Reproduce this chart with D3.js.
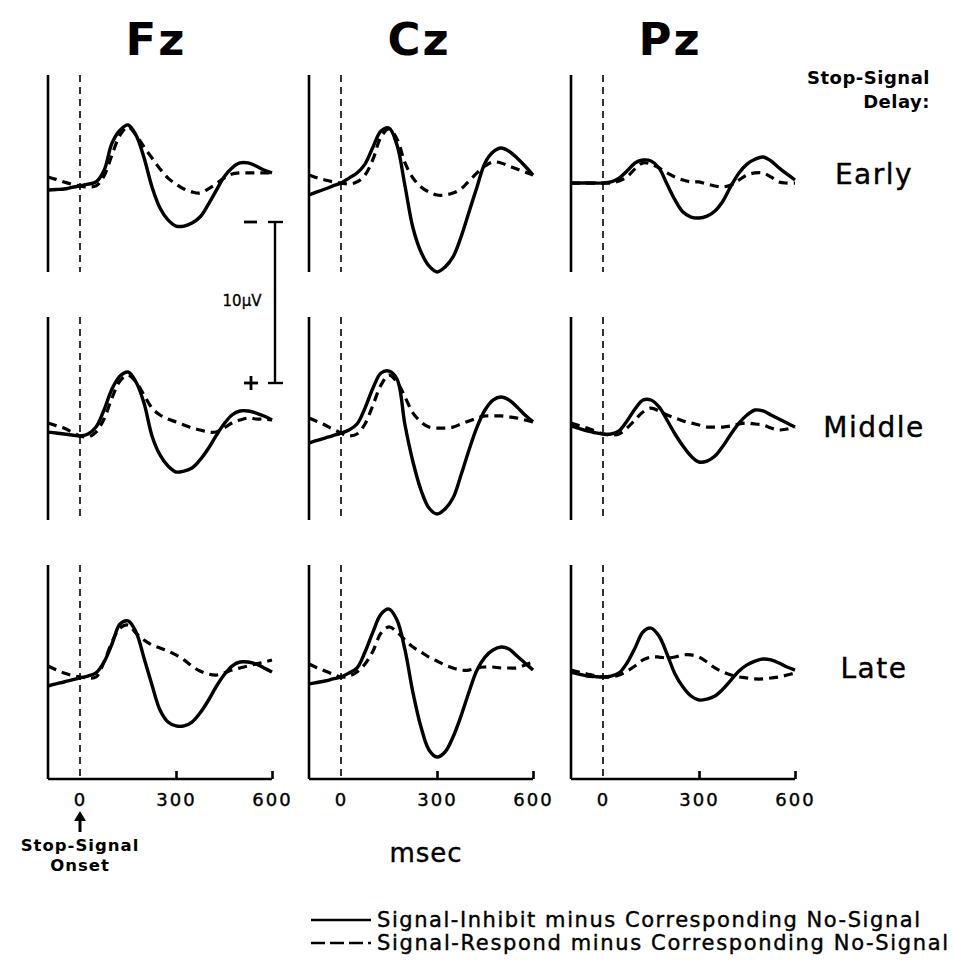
<!DOCTYPE html>
<html>
<head>
<meta charset="utf-8">
<script src="https://cdn.jsdelivr.net/npm/d3@7"></script>
<style>
  html, body { margin: 0; padding: 0; background: #fff; }
  svg { display: block; }
</style>
</head>
<body>
<script>
// ---------------- DATA ----------------
const electrodes = ["Fz", "Cz", "Pz"];
const delays = ["Early", "Middle", "Late"];
const times = [-100, -75, -50, -25, 0, 25, 50, 75, 100, 125, 150, 175, 200, 225, 250, 275, 300,
               325, 350, 375, 400, 425, 450, 475, 500, 525, 550, 575, 600];
const xTicks = [0, 300, 600];
const legendLabels = ["Signal-Inhibit minus Corresponding No-Signal",
                      "Signal-Respond minus Corresponding No-Signal"];
// amplitudes in microvolts (negative plotted upward)
// Early
const fzEarlyInhibit = [0.31, 0.28, 0.25, 0.15, 0.06, -0.05, -0.19, -0.9, -2.6, -3.4, -3.73, -3.1, -1.7, 0.12, 1.43, 2.17, 2.55, 2.55, 2.36, 1.99, 1.24, 0.37, -0.5, -1.06, -1.37, -1.37, -1.18, -0.93, -0.75];
const fzEarlyRespond = [-0.5, -0.35, -0.19, -0.05, 0.06, 0.12, 0.06, -0.56, -1.86, -3.1, -3.6, -3.1, -2.36, -1.68, -1.0, -0.43, -0.06, 0.25, 0.43, 0.5, 0.25, -0.06, -0.43, -0.68, -0.75, -0.75, -0.75, -0.75, -0.75];
const czEarlyInhibit = [0.62, 0.43, 0.25, 0.06, -0.12, -0.43, -0.75, -1.3, -2.36, -3.35, -3.54, -2.48, 0.06, 2.67, 4.16, 5.03, 5.4, 5.1, 4.47, 3.23, 1.68, 0.12, -1.37, -2.05, -2.3, -2.1, -1.68, -1.18, -0.62];
const czEarlyRespond = [-0.62, -0.45, -0.31, -0.2, -0.12, -0.06, -0.19, -0.62, -1.6, -2.98, -3.48, -2.86, -1.37, -0.43, 0.12, 0.43, 0.62, 0.62, 0.5, 0.25, -0.25, -0.75, -1.18, -1.43, -1.37, -1.18, -0.99, -0.81, -0.62];
const pzEarlyInhibit = [-0.12, -0.12, -0.12, -0.12, -0.12, -0.19, -0.43, -0.87, -1.37, -1.55, -1.49, -1.06, -0.06, 0.93, 1.68, 1.99, 2.05, 1.93, 1.61, 0.99, 0.06, -0.75, -1.3, -1.6, -1.74, -1.49, -1.06, -0.68, -0.31];
const pzEarlyRespond = [-0.12, -0.12, -0.12, -0.12, -0.12, -0.12, -0.25, -0.5, -1.0, -1.37, -1.3, -1.06, -0.75, -0.5, -0.31, -0.19, -0.19, -0.06, 0.06, 0.12, 0.0, -0.31, -0.62, -0.75, -0.75, -0.5, -0.19, -0.12, -0.12];
// Middle
const fzMiddleInhibit = [-0.12, -0.06, 0.0, 0.06, 0.12, 0.0, -0.43, -1.49, -2.8, -3.6, -3.85, -3.23, -1.93, 0.12, 1.3, 1.99, 2.36, 2.3, 2.11, 1.61, 0.93, 0.12, -0.62, -1.18, -1.43, -1.43, -1.3, -1.12, -0.87];
const fzMiddleRespond = [-0.68, -0.52, -0.37, -0.12, 0.12, 0.19, -0.12, -0.93, -2.24, -3.3, -3.66, -3.23, -2.42, -1.61, -1.18, -0.93, -0.75, -0.56, -0.37, -0.25, -0.12, -0.12, -0.37, -0.68, -0.87, -0.99, -0.93, -0.93, -0.87];
const czMiddleInhibit = [0.56, 0.4, 0.25, 0.1, -0.06, -0.25, -0.62, -1.61, -2.86, -3.79, -3.91, -3.42, -0.56, 1.74, 3.48, 4.6, 4.97, 4.66, 3.98, 2.55, 0.99, -0.43, -1.49, -2.11, -2.3, -2.11, -1.68, -1.18, -0.75];
const czMiddleRespond = [-0.99, -0.78, -0.56, -0.3, -0.06, 0.12, 0.0, -0.62, -1.8, -3.04, -3.66, -3.23, -2.3, -1.3, -0.75, -0.43, -0.37, -0.37, -0.43, -0.62, -0.81, -0.99, -1.12, -1.12, -1.12, -1.06, -0.99, -0.87, -0.75];
const pzMiddleInhibit = [-0.5, -0.35, -0.19, -0.08, 0.0, 0.0, -0.19, -0.81, -1.55, -2.11, -2.11, -1.68, -0.87, 0.0, 0.75, 1.37, 1.74, 1.68, 1.37, 0.75, 0.0, -0.68, -1.18, -1.49, -1.43, -1.18, -0.93, -0.68, -0.43];
const pzMiddleRespond = [-0.68, -0.52, -0.37, -0.18, 0.0, 0.06, 0.0, -0.37, -0.87, -1.37, -1.61, -1.43, -1.18, -0.99, -0.81, -0.68, -0.56, -0.43, -0.43, -0.43, -0.5, -0.62, -0.68, -0.62, -0.56, -0.37, -0.25, -0.31, -0.43];
// Late
const fzLateInhibit = [0.56, 0.43, 0.31, 0.18, 0.06, -0.06, -0.25, -0.93, -2.05, -3.29, -3.48, -2.8, -1.18, 0.5, 2.05, 2.8, 3.04, 3.04, 2.8, 2.24, 1.49, 0.62, -0.12, -0.68, -0.93, -0.93, -0.81, -0.56, -0.31];
const fzLateRespond = [-0.68, -0.45, -0.25, -0.1, 0.0, 0.06, 0.0, -0.93, -2.17, -3.04, -3.23, -2.73, -2.3, -1.99, -1.8, -1.61, -1.37, -1.06, -0.68, -0.37, -0.19, -0.12, -0.25, -0.43, -0.56, -0.68, -0.81, -0.93, -1.06];
const czLateInhibit = [0.43, 0.34, 0.25, 0.12, 0.0, -0.25, -0.56, -1.55, -2.8, -3.91, -4.22, -3.54, -1.68, 0.99, 3.11, 4.53, 4.97, 4.66, 3.73, 2.42, 0.93, -0.43, -1.24, -1.68, -1.86, -1.74, -1.3, -0.87, -0.43];
const czLateRespond = [-0.81, -0.58, -0.37, -0.18, 0.0, -0.06, -0.31, -0.81, -1.61, -2.73, -3.11, -2.8, -2.3, -1.86, -1.55, -1.24, -0.99, -0.75, -0.56, -0.43, -0.43, -0.56, -0.62, -0.62, -0.56, -0.56, -0.56, -0.75, -0.93];
const pzLateInhibit = [-0.31, -0.18, -0.06, -0.02, 0.0, -0.06, -0.25, -0.87, -1.8, -2.8, -3.04, -2.55, -1.43, -0.19, 0.62, 1.18, 1.43, 1.37, 1.18, 0.75, 0.19, -0.37, -0.75, -0.99, -1.12, -1.06, -0.87, -0.62, -0.43];
const pzLateRespond = [-0.43, -0.3, -0.19, -0.08, 0.0, 0.0, -0.12, -0.37, -0.68, -1.06, -1.24, -1.24, -1.18, -1.24, -1.37, -1.37, -1.24, -0.93, -0.56, -0.31, -0.12, 0.0, 0.06, 0.12, 0.12, 0.06, 0.0, -0.12, -0.25];

const inhibitSeries = [
  [fzEarlyInhibit, czEarlyInhibit, pzEarlyInhibit],
  [fzMiddleInhibit, czMiddleInhibit, pzMiddleInhibit],
  [fzLateInhibit, czLateInhibit, pzLateInhibit]
];
const respondSeries = [
  [fzEarlyRespond, czEarlyRespond, pzEarlyRespond],
  [fzMiddleRespond, czMiddleRespond, pzMiddleRespond],
  [fzLateRespond, czLateRespond, pzLateRespond]
];
const scaleBarValue = 10; // microvolts

// ---------------- LAYOUT ----------------
const W = 954, H = 960;
const colLeft = [48, 309, 571];
const panelW = 224;
const rowZero = [185, 434, 677];
const rowTop = [75, 317, 565];
const rowBottom = [272, 520, 779];
const pxPerUV = 16.1;
const FONT = "'DejaVu Sans', 'Liberation Sans', Arial, sans-serif";

const svg = d3.select("body").append("svg")
  .attr("width", W).attr("height", H)
  .style("font-family", FONT);

// column titles
const titleX = [156, 419, 670];
svg.selectAll("text.col").data(electrodes).join("text")
  .attr("class", "col")
  .attr("x", (d, i) => titleX[i]).attr("y", 55)
  .attr("text-anchor", "middle")
  .attr("font-size", 45).attr("font-weight", "bold")
  .attr("letter-spacing", 2)
  .text(d => d);

// right-hand labels
svg.append("text").attr("x", 930).attr("y", 84).attr("text-anchor", "end")
  .attr("font-size", 18).attr("font-weight", "bold").attr("letter-spacing", 0.5).text("Stop-Signal");
svg.append("text").attr("x", 930).attr("y", 108).attr("text-anchor", "end")
  .attr("font-size", 18).attr("font-weight", "bold").attr("letter-spacing", 0.5).text("Delay:");
const delayLabelY = [184, 437, 678];
svg.selectAll("text.delay").data(delays).join("text")
  .attr("class", "delay")
  .attr("x", 874).attr("y", (d, i) => delayLabelY[i])
  .attr("text-anchor", "middle")
  .attr("font-size", 28).attr("letter-spacing", 1.5)
  .attr("stroke", "#000").attr("stroke-width", 0.4)
  .text(d => d);

const line = d3.line().curve(d3.curveCatmullRom.alpha(0.5));

for (let r = 0; r < 3; r++) {
  const y = d3.scaleLinear().domain([0, scaleBarValue]).range([rowZero[r], rowZero[r] + scaleBarValue * pxPerUV]);
  for (let c = 0; c < 3; c++) {
    const x = d3.scaleLinear().domain([-100, 600]).range([colLeft[c], colLeft[c] + panelW]);
    const g = svg.append("g");
    g.append("line")
      .attr("x1", x(-100)).attr("x2", x(-100))
      .attr("y1", rowTop[r]).attr("y2", rowBottom[r])
      .attr("stroke", "#000").attr("stroke-width", 2.6);
    g.append("line")
      .attr("x1", x(0)).attr("x2", x(0))
      .attr("y1", rowTop[r]).attr("y2", rowBottom[r])
      .attr("stroke", "#000").attr("stroke-width", 1.6)
      .attr("stroke-dasharray", "7,5");
    g.append("path")
      .attr("d", line(times.map((t, i) => [x(t), y(respondSeries[r][c][i])])))
      .attr("fill", "none").attr("stroke", "#000").attr("stroke-width", 3.2)
      .attr("stroke-dasharray", "9,6");
    g.append("path")
      .attr("d", line(times.map((t, i) => [x(t), y(inhibitSeries[r][c][i])])))
      .attr("fill", "none").attr("stroke", "#000").attr("stroke-width", 3.4);
    if (r === 2) {
      const axis = d3.axisBottom(x).tickValues(xTicks).tickSize(0).tickPadding(10).tickFormat(d3.format("d"));
      const ag = svg.append("g").attr("transform", `translate(0,${rowBottom[r]})`).call(axis);
      ag.select(".domain").attr("stroke", "#000").attr("stroke-width", 2.6)
        .attr("d", `M${x(-100)},0H${x(600)}`);
      ag.selectAll(".tick text").attr("font-size", 18).attr("font-family", FONT).attr("fill", "#000")
        .attr("letter-spacing", 2).attr("stroke", "#000").attr("stroke-width", 0.4)
        .attr("dy", "0.95em");
      ag.selectAll(".tick").filter(d => d !== 0).append("line")
        .attr("y1", 0).attr("y2", -8).attr("stroke", "#000").attr("stroke-width", 2.6);
    }
  }
}

// scale bar
const sbX = 275, sbTop = 222;
const sb = d3.scaleLinear().domain([0, scaleBarValue]).range([sbTop, sbTop + scaleBarValue * pxPerUV]);
svg.append("line").attr("x1", sbX).attr("x2", sbX).attr("y1", sb(0)).attr("y2", sb(scaleBarValue))
  .attr("stroke", "#000").attr("stroke-width", 2.4);
[0, scaleBarValue].forEach(v => {
  svg.append("line").attr("x1", sbX - 7).attr("x2", sbX + 8).attr("y1", sb(v)).attr("y2", sb(v))
    .attr("stroke", "#000").attr("stroke-width", 2.4);
});
svg.append("line").attr("x1", 244).attr("x2", 257).attr("y1", sb(0)).attr("y2", sb(0))
  .attr("stroke", "#000").attr("stroke-width", 2.8);
svg.append("line").attr("x1", 244).attr("x2", 258).attr("y1", sb(scaleBarValue)).attr("y2", sb(scaleBarValue))
  .attr("stroke", "#000").attr("stroke-width", 2.8);
svg.append("line").attr("x1", 251).attr("x2", 251).attr("y1", sb(scaleBarValue) - 7).attr("y2", sb(scaleBarValue) + 7)
  .attr("stroke", "#000").attr("stroke-width", 2.8);
svg.append("text").attr("x", 242).attr("y", 306).attr("text-anchor", "middle")
  .attr("font-size", 15).attr("stroke", "#000").attr("stroke-width", 0.3).text("10µV");

// stop-signal onset arrow
const ax = 80;
svg.append("line").attr("x1", ax).attr("x2", ax).attr("y1", 819).attr("y2", 832)
  .attr("stroke", "#000").attr("stroke-width", 3);
svg.append("path").attr("d", `M${ax - 6},${821} L${ax},${811} L${ax + 6},${821} Z`).attr("fill", "#000");
svg.append("text").attr("x", ax).attr("y", 851).attr("text-anchor", "middle")
  .attr("font-size", 16.5).attr("font-weight", "bold").attr("letter-spacing", 1).text("Stop-Signal");
svg.append("text").attr("x", ax).attr("y", 871).attr("text-anchor", "middle")
  .attr("font-size", 16.5).attr("font-weight", "bold").attr("letter-spacing", 1).text("Onset");

// msec label
svg.append("text").attr("x", 426).attr("y", 862).attr("text-anchor", "middle")
  .attr("font-size", 26).attr("letter-spacing", 1).attr("stroke", "#000").attr("stroke-width", 0.4).text("msec");

// legend
const legendY = [920, 943];
const legendDash = [null, "14,5"];
const legendLen = [543, 571];
legendLabels.forEach((lab, i) => {
  svg.append("line").attr("x1", 311).attr("x2", 371).attr("y1", legendY[i]).attr("y2", legendY[i])
    .attr("stroke", "#000").attr("stroke-width", 2.6)
    .attr("stroke-dasharray", legendDash[i]);
  svg.append("text").attr("x", 377).attr("y", legendY[i] + 7)
    .attr("font-size", 21).attr("textLength", legendLen[i]).attr("lengthAdjust", "spacing")
    .attr("stroke", "#000").attr("stroke-width", 0.4)
    .text(lab);
});
</script>
</body>
</html>
